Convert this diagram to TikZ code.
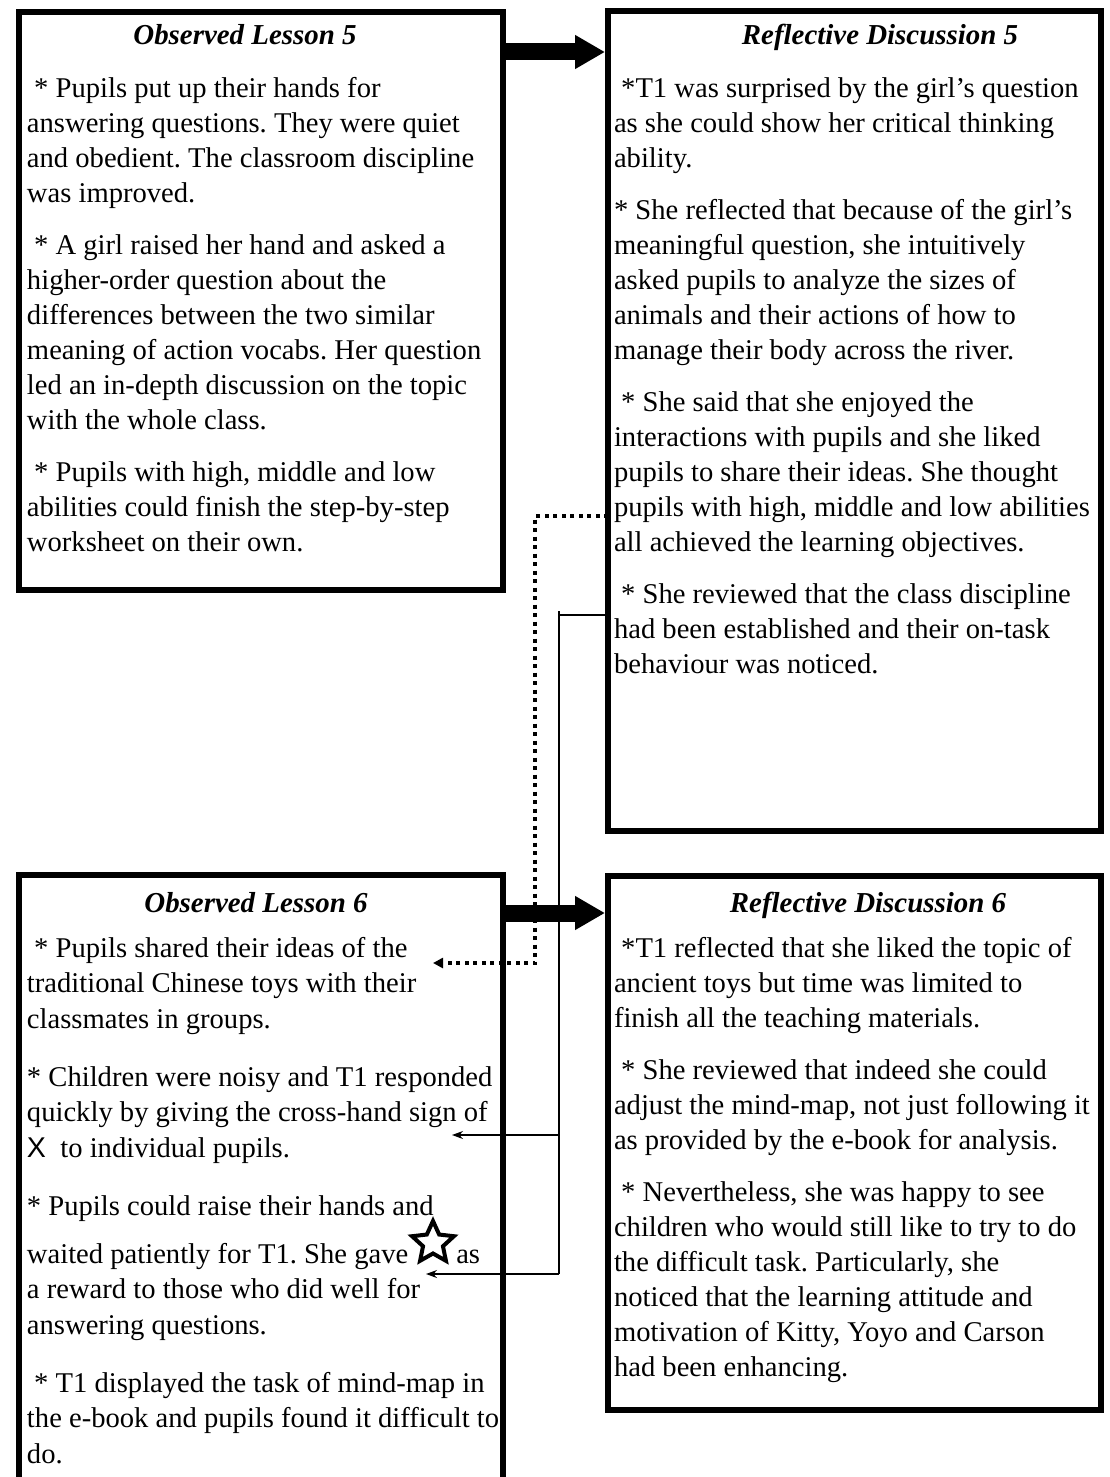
\documentclass[tikz,border=0pt]{standalone}
\usepackage{fontspec}
\setmainfont{Liberation Serif}
\newfontfamily\xfont{Liberation Sans}
\usetikzlibrary{arrows.meta,calc,shapes.geometric}

\newcommand{\lead}{\hspace*{7.2pt}}
\newcommand{\pgap}{\\[17pt]}
\newcommand{\pgapb}{\\[22.5pt]}

\tikzset{
  frame/.style={draw=black, line width=6pt, inner sep=0pt, outer sep=0pt,
    anchor=north west, rectangle},
  body/.style={anchor=north west, inner sep=0pt, outer sep=0pt, align=left,
    font={\fontsize{28.6}{35}\selectfont\frenchspacing}},
  bodyb/.style={body, font={\fontsize{28.6}{35.5}\selectfont\frenchspacing}},
  boxtitle/.style={anchor=base, inner sep=0pt,
    font={\fontsize{28.9}{35}\selectfont\bfseries\itshape}},
  bigarrow/.style={line width=17pt,
    -{Triangle[length=30pt 0 0, width=32pt 0 0]}, shorten >=3pt},
  dotconn/.style={line width=4pt, dash pattern=on 4pt off 4.5pt,
    -{Triangle[length=10pt 0 0, width=10pt 0 0]}},
  thinconn/.style={line width=1.1pt,
    -{Stealth[length=11pt 0 0, width=8pt 0 0]}},
  thinline/.style={line width=1.1pt},
  starmark/.style={star, star points=5, star point ratio=2.1, draw=black,
    line width=4pt, minimum size=44pt, inner sep=0pt},
}

\begin{document}
\begin{tikzpicture}[x=1pt,y=-1pt]
\useasboundingbox (0,0) rectangle (1109,1477);

% frames
\node[frame, minimum width=484pt, minimum height=578pt] (ol5) at (19,12) {};
\node[frame, minimum width=493pt, minimum height=820pt] (rd5) at (608,11) {};
\node[frame, minimum width=484pt, minimum height=700pt] (ol6) at (19,875) {};
\node[frame, minimum width=493pt, minimum height=534pt] (rd6) at (608,876) {};

% titles
\node[boxtitle] (ol5title) at (245,45) {Observed Lesson 5};
\node[boxtitle] (rd5title) at (880,45) {Reflective Discussion 5};
\node[boxtitle] (ol6title) at (256,912) {Observed Lesson 6};
\node[boxtitle] (rd6title) at (868,912) {Reflective Discussion 6};

% texts (first baseline = anchor y + 0.7 baselineskip)
\node[body] (ol5text) at (27,72.5) {\strut
\lead* Pupils put up their hands for\\
answering questions. They were quiet\\
and obedient. The classroom discipline\\
was improved.\pgap
\lead* A girl raised her hand and asked a\\
higher-order question about the\\
differences between the two similar\\
meaning of action vocabs. Her question\\
led an in-depth discussion on the topic\\
with the whole class.\pgap
\lead* Pupils with high, middle and low\\
abilities could finish the step-by-step\\
worksheet on their own.};

\node[body] (rd5text) at (614,72.5) {\strut
\lead*T1 was surprised by the girl’s question\\
as she could show her critical thinking\\
ability.\pgap
* She reflected that because of the girl’s\\
meaningful question, she intuitively\\
asked pupils to analyze the sizes of\\
animals and their actions of how to\\
manage their body across the river.\pgap
\lead* She said that she enjoyed the\\
interactions with pupils and she liked\\
pupils to share their ideas. She thought\\
pupils with high, middle and low abilities\\
all achieved the learning objectives.\pgap
\lead* She reviewed that the class discipline\\
had been established and their on-task\\
behaviour was noticed.};

\node[bodyb] (ol6text) at (27,932.15) {\strut
\lead* Pupils shared their ideas of the\\
traditional Chinese toys with their\\
classmates in groups.\pgapb
* Children were noisy and T1 responded\\
quickly by giving the cross-hand sign of\\
{\xfont X}\ \ to individual pupils.\pgapb
* Pupils could raise their hands and\\[12.5pt]
waited patiently for T1. She gave\hspace{48pt}as\\
a reward to those who did well for\\
answering questions.\pgapb
\lead* T1 displayed the task of mind-map in\\
the e-book and pupils found it difficult to\\
do.};

\node[body] (rd6text) at (614,932.5) {\strut
\lead*T1 reflected that she liked the topic of\\
ancient toys but time was limited to\\
finish all the teaching materials.\pgap
\lead* She reviewed that indeed she could\\
adjust the mind-map, not just following it\\
as provided by the e-book for analysis.\pgap
\lead* Nevertheless, she was happy to see\\
children who would still like to try to do\\
the difficult task. Particularly, she\\
noticed that the learning attitude and\\
motivation of Kitty, Yoyo and Carson\\
had been enhancing.};

% outlined star shown beside "She gave"
\node[starmark] (star) at (433,1243) {};

% lesson to discussion arrows
\draw[bigarrow] (ol5.east |- 0,52) -- (rd5.west |- 0,52);
\draw[bigarrow] (ol6.east |- 0,913) -- (rd6.west |- 0,913);

% dotted link
\coordinate (dj1) at (535,516);
\coordinate (dj2) at (535,963);
\coordinate (dend) at (433,963);
\draw[dotconn] (rd5.west |- dj1) -- (dj1) -- (dj2) -- (dend);

% thin links
\coordinate (tj0) at (559,611);
\coordinate (tj1) at (559,615);
\coordinate (tj2) at (559,1135);
\coordinate (tj3) at (559,1274);
\coordinate (tend1) at (452,1135);
\coordinate (tend2) at (426,1274);
\draw[thinline] (rd5.west |- tj1) -- (tj1);
\draw[thinline] (tj0) -- (tj3);
\draw[thinconn] (tj2) -- (tend1);
\draw[thinconn] (tj3) -- (tend2);
\end{tikzpicture}
\end{document}
